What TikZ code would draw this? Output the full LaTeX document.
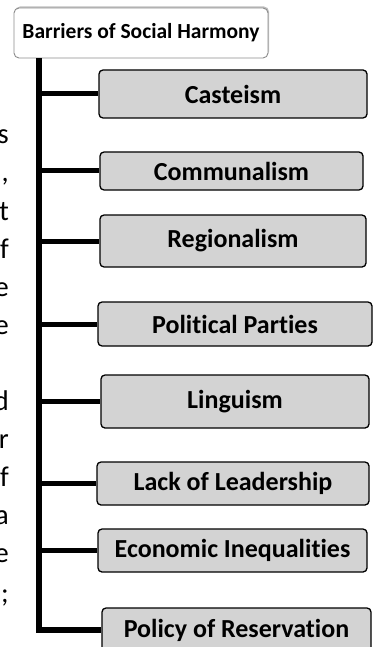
\documentclass[tikz,border=0pt]{standalone}
\usepackage{fontspec}
\setmainfont{Carlito}[RawFeature={-liga}]
\usetikzlibrary{shadows}
\definecolor{boxgray}{HTML}{D3D3D3}
\definecolor{titleborder}{HTML}{8C8C8C}
\begin{document}
\begin{tikzpicture}[x=1pt,y=-1pt,
  item/.style={draw=black, line width=1.3pt, fill=boxgray, rounded corners=4pt,
    font=\bfseries\fontsize{26}{30}\selectfont, inner sep=0pt, text=black},
  titlebox/.style={draw=titleborder, line width=0.9pt, fill=white, rounded corners=5pt,
    font=\bfseries\fontsize{21.5}{25}\selectfont, inner sep=0pt,
    drop shadow={shadow xshift=1pt, shadow yshift=1.5pt, opacity=0.25, fill=black}},
  spine/.style={line width=5.5pt, line join=miter, draw=black},
  branch/.style={line width=5pt, draw=black},
  frag/.style={anchor=base east, inner sep=0pt, font=\fontsize{28.5}{32}\selectfont}
]
\clip (0,0) rectangle (379,647);
\fill[white] (0,0) rectangle (379,647);

% left paragraph fragments
\node[frag] (l1) at (9,144) {s};
\node[frag] (l2) at (9,182) {,};
\node[frag] (l3) at (9,220) {t};
\node[frag] (l4) at (9,258) {f};
\node[frag] (l5) at (9,296) {e};
\node[frag] (l6) at (9,334) {e};
\node[frag] (l7) at (9,410) {d};
\node[frag] (l8) at (9,448) {r};
\node[frag] (l9) at (9,486) {f};
\node[frag] (l10) at (9,524) {a};
\node[frag] (l11) at (9,562) {e};
\node[frag] (l12) at (9,602) {;};

% title
\node[titlebox, minimum width=254pt, minimum height=50pt] (title) at (141,33) {Barriers of Social Harmony};

% items
\node[item, minimum width=268pt, minimum height=48pt] (cast) at (233,94) {Casteism};
\node[item, minimum width=263pt, minimum height=38pt] (comm) at (231.5,171) {Communalism};
\node[item, minimum width=266pt, minimum height=52pt] (reg) at (233,241) {Regionalism};
\node[item, minimum width=274pt, minimum height=44pt] (pol) at (235,324) {Political Parties};
\node[item, minimum width=268pt, minimum height=53pt] (ling) at (235,401.5) {Linguism};
\node[item, minimum width=272pt, minimum height=43pt] (lack) at (233,483.5) {Lack of Leadership};
\node[item, minimum width=269pt, minimum height=43pt] (econ) at (232.5,550.5) {Economic Inequalities};
\node[item, minimum width=269pt, minimum height=44pt] (res) at (236.5,630) {Policy of Reservation};

% connectors
\coordinate (sx) at (39,0);
\draw[spine] (title.south -| sx) |- (res.west);
\foreach \n in {cast,comm,reg,pol,ling,lack,econ}{
  \draw[branch] (\n.west -| sx) -- (\n.west);
}
\end{tikzpicture}
\end{document}
